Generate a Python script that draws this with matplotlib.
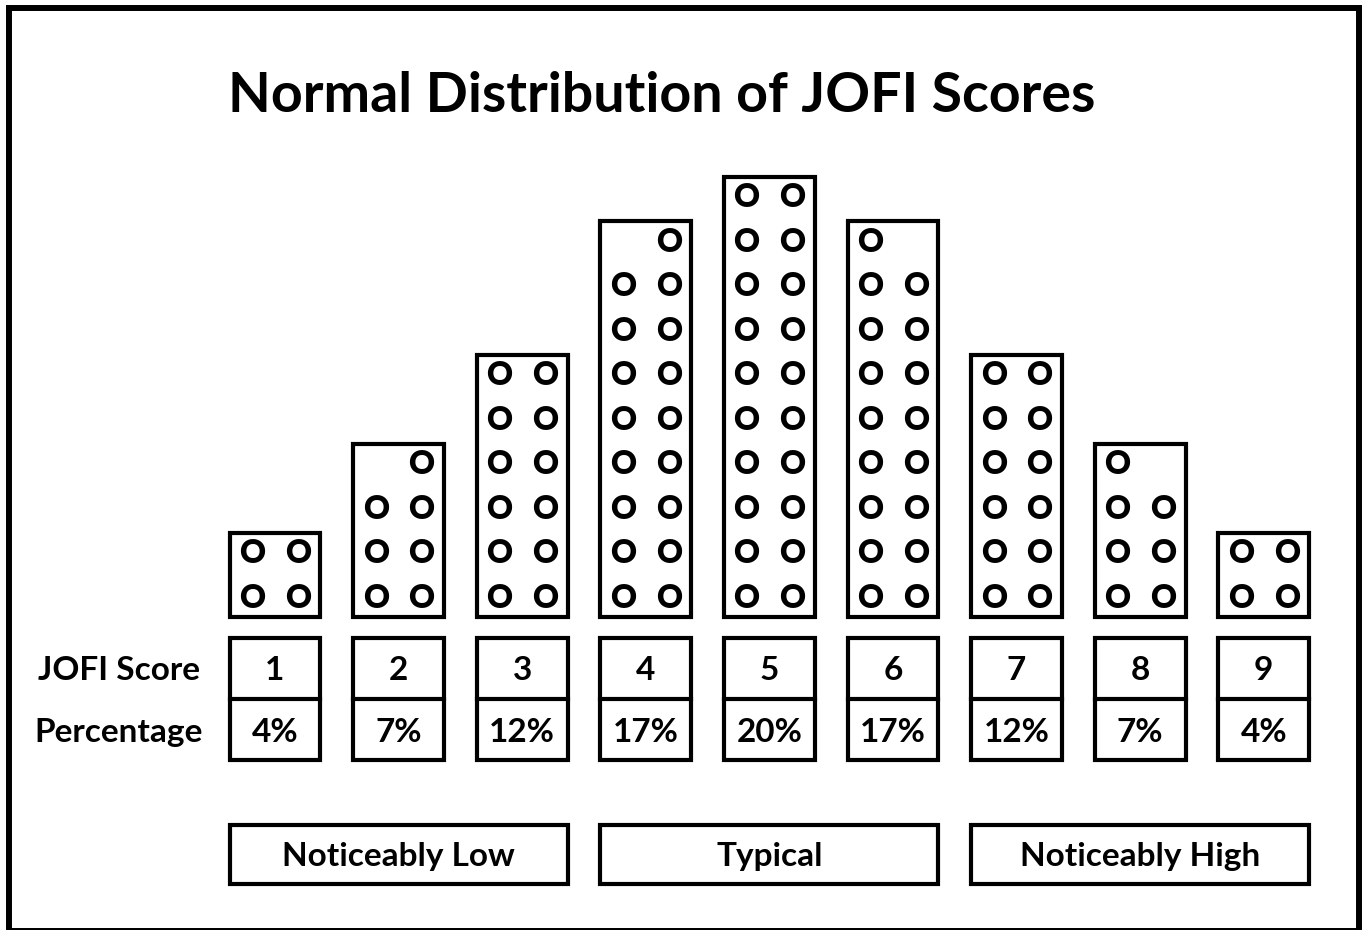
import math
import matplotlib
matplotlib.use('Agg')
import matplotlib.pyplot as plt
from matplotlib.patches import Rectangle

# --- data ---
scores = [1, 2, 3, 4, 5, 6, 7, 8, 9]
percentages = [4, 7, 12, 17, 20, 17, 12, 7, 4]
bands = ['Noticeably Low', 'Typical', 'Noticeably High']
band_first = [1, 4, 7]
band_last = [3, 6, 9]
row_labels = ['JOFI Score', 'Percentage']
title = 'Normal Distribution of JOFI Scores'

plt.rcParams['font.family'] = ['Lato', 'DejaVu Sans']

W, H = 1366, 930
fig = plt.figure(figsize=(W / 100, H / 100), dpi=100)
ax = fig.add_axes([0, 0, 1, 1])

# axis units: x = one column per score, y = one row of "O" marks
COL = 123.6   # px per column
ROW = 44.5    # px per row
X0, Y0 = 275, 617  # pixel position of score 1 centre / column base
ax.set_xlim(1 - X0 / COL, 1 + (W - X0) / COL)
ax.set_ylim((Y0 - H) / ROW, Y0 / ROW)
ax.axis('off')

def py(px):
    # pixel row -> axis y
    return (Y0 - px) / ROW

LW = 3.0
BOX_W = 0.735
FS = 24
cap_o = 11 / ROW   # half cap height of the O glyphs, in rows

for s, p in zip(scores, percentages):
    nrows = math.ceil(p / 2)
    ax.add_patch(Rectangle((s - BOX_W / 2, 0), BOX_W, nrows - 0.11,
                           fill=False, lw=LW, ec='black', joinstyle='miter'))
    for k in range(p):
        r = k // 2
        side = k % 2
        if p % 2 == 1 and k == p - 1:
            # lone mark sits on the side facing the middle
            side = 1 if s < 5 else 0
        x = s - 0.185 if side == 0 else s + 0.185
        ax.text(x, r + 0.45 - cap_o, 'O', ha='center', va='baseline',
                fontsize=23, fontweight='heavy')

    # score / percentage table
    top, mid, bot = py(638), py(699), py(760)
    ax.add_patch(Rectangle((s - BOX_W / 2, bot), BOX_W, top - bot,
                           fill=False, lw=LW, ec='black', joinstyle='miter'))
    ax.plot([s - BOX_W / 2, s + BOX_W / 2], [mid, mid], color='black', lw=LW)
    ax.text(s, py(668 + 12), str(s), ha='center', va='baseline',
            fontsize=FS, fontweight='bold')
    ax.text(s, py(730 + 12), f'{p}%', ha='center', va='baseline',
            fontsize=FS, fontweight='bold')

# band boxes
for name, a, b in zip(bands, band_first, band_last):
    x1 = a - BOX_W / 2
    x2 = b + BOX_W / 2
    ax.add_patch(Rectangle((x1, py(884)), x2 - x1, py(825) - py(884),
                           fill=False, lw=LW, ec='black', joinstyle='miter'))
    ax.text((x1 + x2) / 2, py(854 + 12), name, ha='center', va='baseline',
            fontsize=FS, fontweight='bold')

# row labels and title
for lab, ypx in zip(row_labels, [668, 730]):
    fig.text(119 / W, 1 - (ypx + 12) / H, lab, ha='center', va='baseline',
             fontsize=FS, fontweight='bold')
fig.text(662 / W, 1 - 112 / H, title, ha='center', va='baseline',
         fontsize=40, fontweight='bold')

# outer frame
fig.add_artist(Rectangle((9 / W, 1 - 931 / H), 1350 / W, 922.5 / H,
                         transform=fig.transFigure, fill=False,
                         lw=4.3, ec='black', joinstyle='miter'))

fig.savefig('out.png', dpi=100, facecolor='white')
